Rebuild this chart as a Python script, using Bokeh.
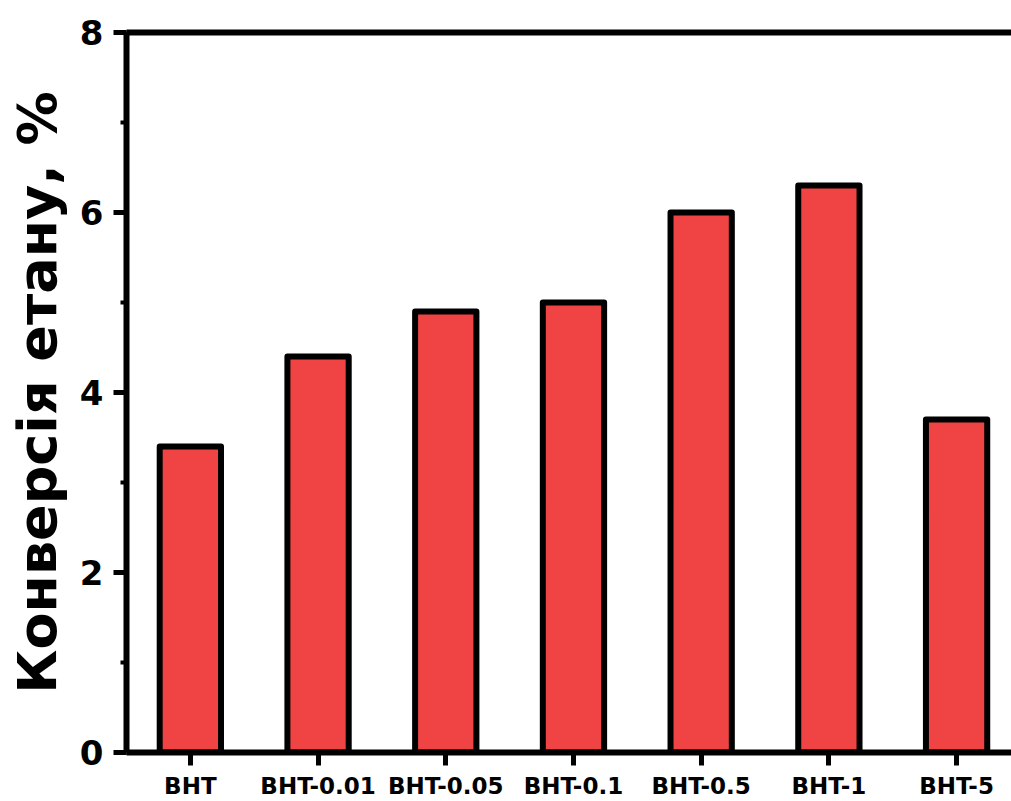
from bokeh.plotting import figure
from bokeh.models import Range1d, FixedTicker, SingleIntervalTicker, LinearAxis
from bokeh.embed import file_html
from bokeh.resources import INLINE

categories = ["BHT", "BHT-0.01", "BHT-0.05", "BHT-0.1", "BHT-0.5", "BHT-1", "BHT-5"]
conversion = [3.4, 4.4, 4.9, 5.0, 6.0, 6.3, 3.7]
y_ticks = [0, 2, 4, 6, 8]
y_title = "Конверсія етану, %"

xs = list(range(len(categories)))

p = figure(width=1011, height=801, output_backend="svg", toolbar_location=None,
           x_range=Range1d(-0.5, 6.43), y_range=Range1d(0, 8),
           min_border_left=126, min_border_top=32, min_border_bottom=48,
           min_border_right=0, x_axis_type=None, y_axis_type=None)
p.outline_line_color = None
p.xgrid.visible = False
p.ygrid.visible = False
p.background_fill_color = "white"
p.border_fill_color = "white"

p.vbar(x=xs, top=conversion, width=0.48, bottom=0,
       fill_color="#F04343", line_color="black", line_width=6, line_join="round")

font = "DejaVu Sans"

xaxis = LinearAxis(ticker=FixedTicker(ticks=xs),
                   major_label_overrides={i: c for i, c in zip(xs, categories)})
xaxis.axis_line_width = 6
xaxis.axis_line_color = "black"
xaxis.major_tick_in = 0
xaxis.major_tick_out = 13
xaxis.major_tick_line_width = 5
xaxis.minor_tick_line_color = None
xaxis.major_label_standoff = 7
xaxis.major_label_text_font = font
xaxis.major_label_text_font_style = "bold"
xaxis.major_label_text_font_size = "23px"
xaxis.major_label_text_color = "black"
p.add_layout(xaxis, "below")

yaxis = LinearAxis(ticker=SingleIntervalTicker(interval=2, num_minor_ticks=2))
yaxis.axis_line_width = 6
yaxis.axis_line_color = "black"
yaxis.major_tick_in = 0
yaxis.major_tick_out = 13
yaxis.major_tick_line_width = 5
yaxis.minor_tick_in = 0
yaxis.minor_tick_out = 6
yaxis.minor_tick_line_width = 4
yaxis.major_label_standoff = 10
yaxis.major_label_text_font = font
yaxis.major_label_text_font_style = "bold"
yaxis.major_label_text_font_size = "34px"
yaxis.major_label_text_color = "black"
yaxis.axis_label = y_title
yaxis.axis_label_text_font = font
yaxis.axis_label_text_font_style = "bold"
yaxis.axis_label_text_font_size = "54px"
yaxis.axis_label_text_color = "black"
yaxis.axis_label_standoff = 8
p.add_layout(yaxis, "left")

top_axis = LinearAxis(ticker=FixedTicker(ticks=[]))
top_axis.axis_line_width = 6
top_axis.axis_line_color = "black"
top_axis.major_tick_line_color = None
top_axis.minor_tick_line_color = None
top_axis.major_label_text_font_size = "0px"
p.add_layout(top_axis, "above")

open("out.html", "w").write(file_html(p, INLINE))
